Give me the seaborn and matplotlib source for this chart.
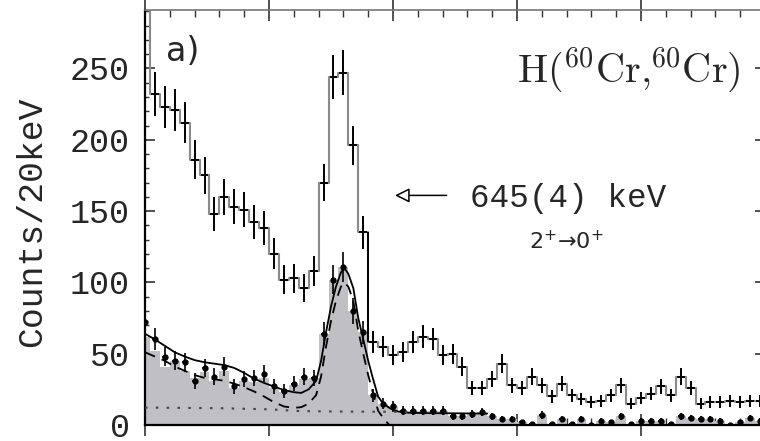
import numpy as np
import pandas as pd
import matplotlib
matplotlib.use("Agg")
import matplotlib.pyplot as plt
import seaborn as sns
from matplotlib.ticker import MultipleLocator

# 20 keV bins, centres in keV
energy = np.arange(250, 1500, 20)

# upper spectrum (grey steps, black error bars)
upper_counts = [310, 232, 223, 221, 212, 186, 175, 148, 160, 153, 151, 142, 138, 120,
                102, 103, 96, 108, 170, 244, 247, 196, 135, 58, 55, 49, 51, 58, 62, 60,
                49, 50, 41, 26, 26, 32, 43, 28, 26, 34, 28, 20, 29, 21, 18, 16, 17, 21,
                28, 15, 19, 22, 27, 21, 34, 26, 15, 16, 16, 17, 16, 17, 17]

# lower spectrum (points)
lower_counts = [72, 60, 48, 45, 44, 31, 40, 34, 41, 27, 32, 33, 36, 27, 24, 29, 34, 33,
                64, 102, 111, 80, 65, 21, 15, 13, 10, 10, 10, 10, 10, 6, 6, 8, 9, 6, 4,
                4, 2, 1, 7, 1, 4, 1, 4, 0, 3, 2, 6, 1, 3, 3, 3, 1, 6, 5, 4, 4, 3, 0, 2, 5, 3]

# shaded histogram
lower_fill = [62, 52, 41, 45, 38, 33, 37, 31, 38, 26, 31, 30, 33, 26, 23, 28, 32, 33,
              64, 102, 111, 80, 65, 21, 15, 13, 10, 10, 10, 10, 10, 6, 6, 8, 9, 6, 4,
              4, 2, 1, 7, 1, 4, 1, 4, 0, 3, 2, 6, 1, 3, 3, 3, 1, 6, 5, 4, 4, 3, 0, 2, 5, 3]

# fit curves
fit_e = [250, 270, 290, 310, 330, 350, 370, 390, 410, 430, 450, 470, 490, 510, 530, 550,
         565, 580, 595, 605, 615, 625, 635, 645, 652, 660, 670, 680, 690, 700, 710, 720,
         730, 745, 760, 780, 820, 880, 940]
fit_total = [64, 60, 55.5, 51, 48, 45.5, 44, 43, 42, 40, 36.5, 32.5, 29.5, 27, 24.5, 23,
             22.5, 25, 31, 45, 65, 83, 97, 107, 110, 106, 96, 75, 60, 45, 32, 20,
             15, 11.5, 9.5, 8.6, 8.3, 8.2, 8]
peak_e = [250, 270, 290, 310, 330, 350, 370, 390, 410, 430, 450, 470, 490, 510, 530, 550,
          565, 580, 595, 605, 615, 625, 635, 645, 652, 660, 670, 680, 690, 700, 710, 720,
          730, 740, 750]
peak_curve = [51, 48, 45, 41, 38, 35, 33, 32, 31, 29, 26.5, 23.5, 20, 16, 13, 12,
              12.5, 15, 21, 34, 55, 73, 87, 97, 100, 97, 87, 66, 50, 35, 22, 10,
              5, 1, -2]
bkg_e = [250, 400, 500, 560, 650, 780]
bkg_curve = [12.2, 11.8, 11, 9.8, 9.4, 9.2]

spec = pd.DataFrame({"energy": energy, "upper": upper_counts,
                     "lower": lower_counts, "fill": lower_fill})

sns.set_theme(style="ticks")
plt.rcParams["font.family"] = ["Liberation Mono", "DejaVu Sans"]

fig = plt.figure(figsize=(7.6, 4.41), dpi=100)
ax = fig.add_axes([145 / 760, 16 / 441, 620 / 760, 415 / 441])

edges = list(np.append(energy - 10, energy[-1] + 10))

sns.histplot(data=spec, x="energy", weights="fill", bins=edges, element="step",
             fill=True, color="#bfbfc4", alpha=1, linewidth=0, ax=ax)
sns.histplot(data=spec, x="energy", weights="upper", bins=edges, element="step",
             fill=False, color="#8a8a8a", linewidth=1.5, ax=ax)
# the step at the right flank of the peak is drawn in black
ax.vlines(edges[23], upper_counts[23], upper_counts[22], color="black", lw=1.4, zorder=3)

ax.errorbar(spec["energy"], spec["upper"], yerr=np.sqrt(spec["upper"]), xerr=8,
            fmt="none", ecolor="black", elinewidth=1.4, capsize=0, zorder=4)
ax.errorbar(spec["energy"], spec["lower"], yerr=np.sqrt(spec["lower"].clip(lower=1)),
            xerr=5, fmt="o", ms=3.5, color="black", elinewidth=1.2, capsize=0, zorder=4)

sns.lineplot(x=fit_e, y=fit_total, color="black", lw=1.3, ax=ax, zorder=5)
sns.lineplot(x=peak_e, y=peak_curve, color="black", lw=1.3, ax=ax, zorder=5,
             linestyle=(0, (6, 4)))
sns.lineplot(x=bkg_e, y=bkg_curve, color="#444444", lw=1.5, ax=ax, zorder=5,
             linestyle=(0, (1.2, 4)))

ax.set_xlim(250, 1500)
ax.set_ylim(0, 291)
ax.set_xlabel("")
ax.set_ylabel("")

ax.xaxis.set_major_locator(MultipleLocator(250))
ax.xaxis.set_minor_locator(MultipleLocator(50))
ax.yaxis.set_major_locator(MultipleLocator(50))
ax.yaxis.set_minor_locator(MultipleLocator(10))
ax.tick_params(which="both", top=True, right=True, direction="in", color="#333333")
ax.tick_params(axis="x", which="major", direction="inout", length=16, width=1.2,
               labelbottom=False)
ax.tick_params(axis="x", which="minor", length=5, width=1)
ax.tick_params(axis="y", which="major", length=7, width=1.2, labelsize=24, pad=11)
ax.tick_params(axis="y", which="minor", length=3, width=1)
for side in ["left", "bottom"]:
    ax.spines[side].set_linewidth(1.6)
    ax.spines[side].set_color("black")
ax.spines["top"].set_linewidth(1.2)
ax.spines["top"].set_color("#777777")
ax.spines["right"].set_linewidth(1.2)

fig.text(32 / 760, 1 - 222 / 441, "Counts/20keV", rotation=90, ha="center",
         va="center", fontsize=25)

ax.text(325, 262, "a)", family="DejaVu Sans", fontsize=24, ha="center", va="center")
ax.text(1450, 249, r"$\mathrm{H(^{60}Cr{,}^{60}Cr)}$", math_fontfamily="cm",
        fontsize=29, ha="right", va="center")
ax.annotate("", xy=(754, 161), xytext=(858, 161),
            arrowprops=dict(arrowstyle="-|>", fc="white", ec="black", lw=1.1,
                            mutation_scale=22, shrinkA=0, shrinkB=0))
ax.text(905, 159, "645(4) keV", fontsize=23.5, ha="left", va="center")
ax.text(1099, 129, r"2$^{+}$→0$^{+}$", family="DejaVu Sans", math_fontfamily="dejavusans",
        fontsize=16, ha="center", va="center")

fig.savefig("out.png", dpi=100)
